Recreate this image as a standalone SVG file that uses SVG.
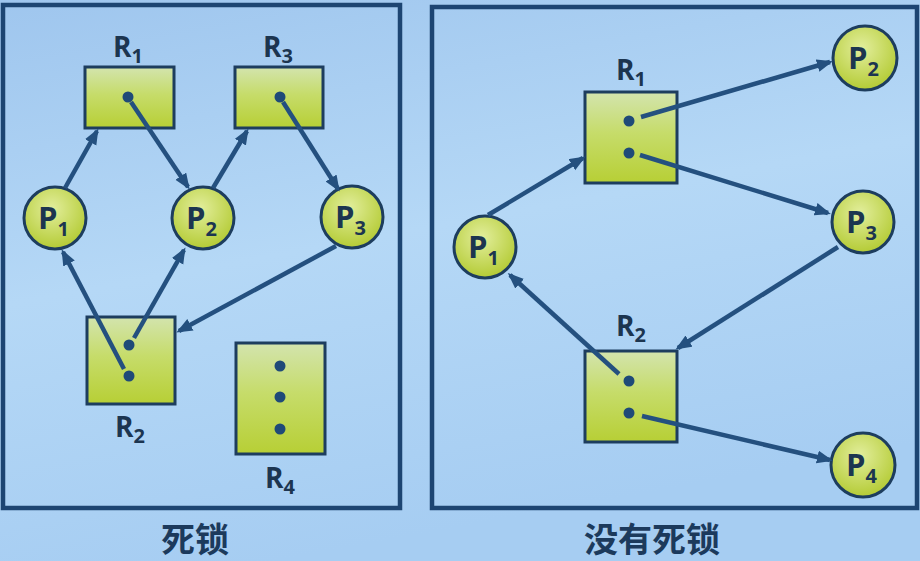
<svg xmlns="http://www.w3.org/2000/svg" width="920" height="561" viewBox="0 0 920 561">
<defs>
  <linearGradient id="bg" x1="0" y1="0" x2="0.3" y2="1">
    <stop offset="0" stop-color="#9fc6ee"/>
    <stop offset="0.5" stop-color="#b5d8f6"/>
    <stop offset="1" stop-color="#a6cdf2"/>
  </linearGradient>
  <linearGradient id="boxg" x1="0" y1="0" x2="0" y2="1">
    <stop offset="0" stop-color="#d3e4ae"/>
    <stop offset="0.45" stop-color="#c6dc6a"/>
    <stop offset="1" stop-color="#b7cf35"/>
  </linearGradient>
  <radialGradient id="circg" cx="0.45" cy="0.35" r="0.65">
    <stop offset="0" stop-color="#e2ee9c"/>
    <stop offset="1" stop-color="#b4cb35"/>
  </radialGradient>
  <marker id="ah" markerUnits="userSpaceOnUse" markerWidth="18" markerHeight="14" refX="13" refY="6.5" orient="auto">
    <path d="M0,0 L16,6.5 L0,13 z" fill="#24507f"/>
  </marker>
  <style>
    .frame{fill:none;stroke:#1d4572;stroke-width:4.5}
    .box{fill:url(#boxg);stroke:#1d3d5e;stroke-width:3}
    .proc{fill:url(#circg);stroke:#1d3d5e;stroke-width:3}
    .dot{fill:#1f4a78}
    .lbl{font-family:"Open Sans","DejaVu Sans",sans-serif;font-weight:bold;fill:#1c3550}
    .r{font-size:28px}
    .p{font-size:31px}
    .sub{font-size:20px}
    .cap{font-family:"Noto Sans CJK SC","Noto Sans",sans-serif;font-weight:bold;font-size:34px;fill:#1c3a5c;text-anchor:middle}
    .conn path{fill:none;stroke:#24507f;stroke-width:4.5;marker-end:url(#ah)}
  </style>
</defs>
<rect x="0" y="0" width="920" height="561" fill="url(#bg)"/>

<g id="frame-left"><rect class="frame" x="3" y="5" width="397" height="503"/></g>
<g id="frame-right"><rect class="frame" x="432" y="7" width="485" height="501"/></g>

<!-- left diagram -->
<g id="L-R1">
  <rect class="box" x="85" y="67" width="89" height="61"/>
  <circle class="dot" cx="128" cy="97" r="5.5"/>
  <text class="lbl r" x="113" y="57">R<tspan class="sub" dy="6">1</tspan></text>
</g>
<g id="L-R3">
  <rect class="box" x="235" y="67" width="88" height="61"/>
  <circle class="dot" cx="280" cy="97" r="5.5"/>
  <text class="lbl r" x="263" y="57">R<tspan class="sub" dy="6">3</tspan></text>
</g>
<g id="L-R2">
  <rect class="box" x="87" y="317" width="88" height="87"/>
  <circle class="dot" cx="129" cy="345" r="5.5"/>
  <circle class="dot" cx="129" cy="376" r="5.5"/>
  <text class="lbl r" x="115" y="437">R<tspan class="sub" dy="6">2</tspan></text>
</g>
<g id="L-R4">
  <rect class="box" x="236" y="343" width="89" height="111"/>
  <circle class="dot" cx="280" cy="366" r="5.5"/>
  <circle class="dot" cx="280" cy="397" r="5.5"/>
  <circle class="dot" cx="280" cy="429" r="5.5"/>
  <text class="lbl r" x="265" y="488">R<tspan class="sub" dy="6">4</tspan></text>
</g>
<g id="L-P1">
  <circle class="proc" cx="55" cy="218" r="31"/>
  <text class="lbl p" x="38" y="229">P<tspan class="sub" dy="7">1</tspan></text>
</g>
<g id="L-P2">
  <circle class="proc" cx="203" cy="218" r="31"/>
  <text class="lbl p" x="186" y="229">P<tspan class="sub" dy="7">2</tspan></text>
</g>
<g id="L-P3">
  <circle class="proc" cx="352" cy="217" r="31"/>
  <text class="lbl p" x="335" y="228">P<tspan class="sub" dy="7">3</tspan></text>
</g>
<g id="L-caption"><text class="cap" x="195" y="552">死锁</text></g>

<!-- right diagram -->
<g id="R-R1">
  <rect class="box" x="585" y="92" width="92" height="91"/>
  <circle class="dot" cx="629" cy="121" r="5.5"/>
  <circle class="dot" cx="629" cy="153" r="5.5"/>
  <text class="lbl r" x="616" y="80">R<tspan class="sub" dy="6">1</tspan></text>
</g>
<g id="R-R2">
  <rect class="box" x="585" y="351" width="92" height="91"/>
  <circle class="dot" cx="629" cy="381" r="5.5"/>
  <circle class="dot" cx="629" cy="413" r="5.5"/>
  <text class="lbl r" x="616" y="336">R<tspan class="sub" dy="6">2</tspan></text>
</g>
<g id="R-P1">
  <circle class="proc" cx="485" cy="247" r="31"/>
  <text class="lbl p" x="468" y="258">P<tspan class="sub" dy="7">1</tspan></text>
</g>
<g id="R-P2">
  <circle class="proc" cx="865" cy="58" r="32"/>
  <text class="lbl p" x="848" y="69">P<tspan class="sub" dy="7">2</tspan></text>
</g>
<g id="R-P3">
  <circle class="proc" cx="863" cy="222" r="31"/>
  <text class="lbl p" x="846" y="233">P<tspan class="sub" dy="7">3</tspan></text>
</g>
<g id="R-P4">
  <circle class="proc" cx="863" cy="465" r="32"/>
  <text class="lbl p" x="846" y="476">P<tspan class="sub" dy="7">4</tspan></text>
</g>
<g id="R-caption"><text class="cap" x="652" y="552">没有死锁</text></g>

<!-- connectors (drawn on top so lines leaving dots show over boxes) -->
<g id="connectors" class="conn">
  <path d="M65,188 L97,131"/>
  <path d="M131,102 L188,187"/>
  <path d="M213,188 L247,131"/>
  <path d="M283,102 L338,189"/>
  <path d="M336,246 L179,331"/>
  <path d="M134,338 L184,250"/>
  <path d="M124,369 L63,252"/>
  <path d="M488,215 L583,158"/>
  <path d="M641,117 L830,62"/>
  <path d="M640,155 L828,213"/>
  <path d="M838,247 L678,348"/>
  <path d="M619,374 L510,275"/>
  <path d="M642,416 L830,460"/>
</g>
</svg>
